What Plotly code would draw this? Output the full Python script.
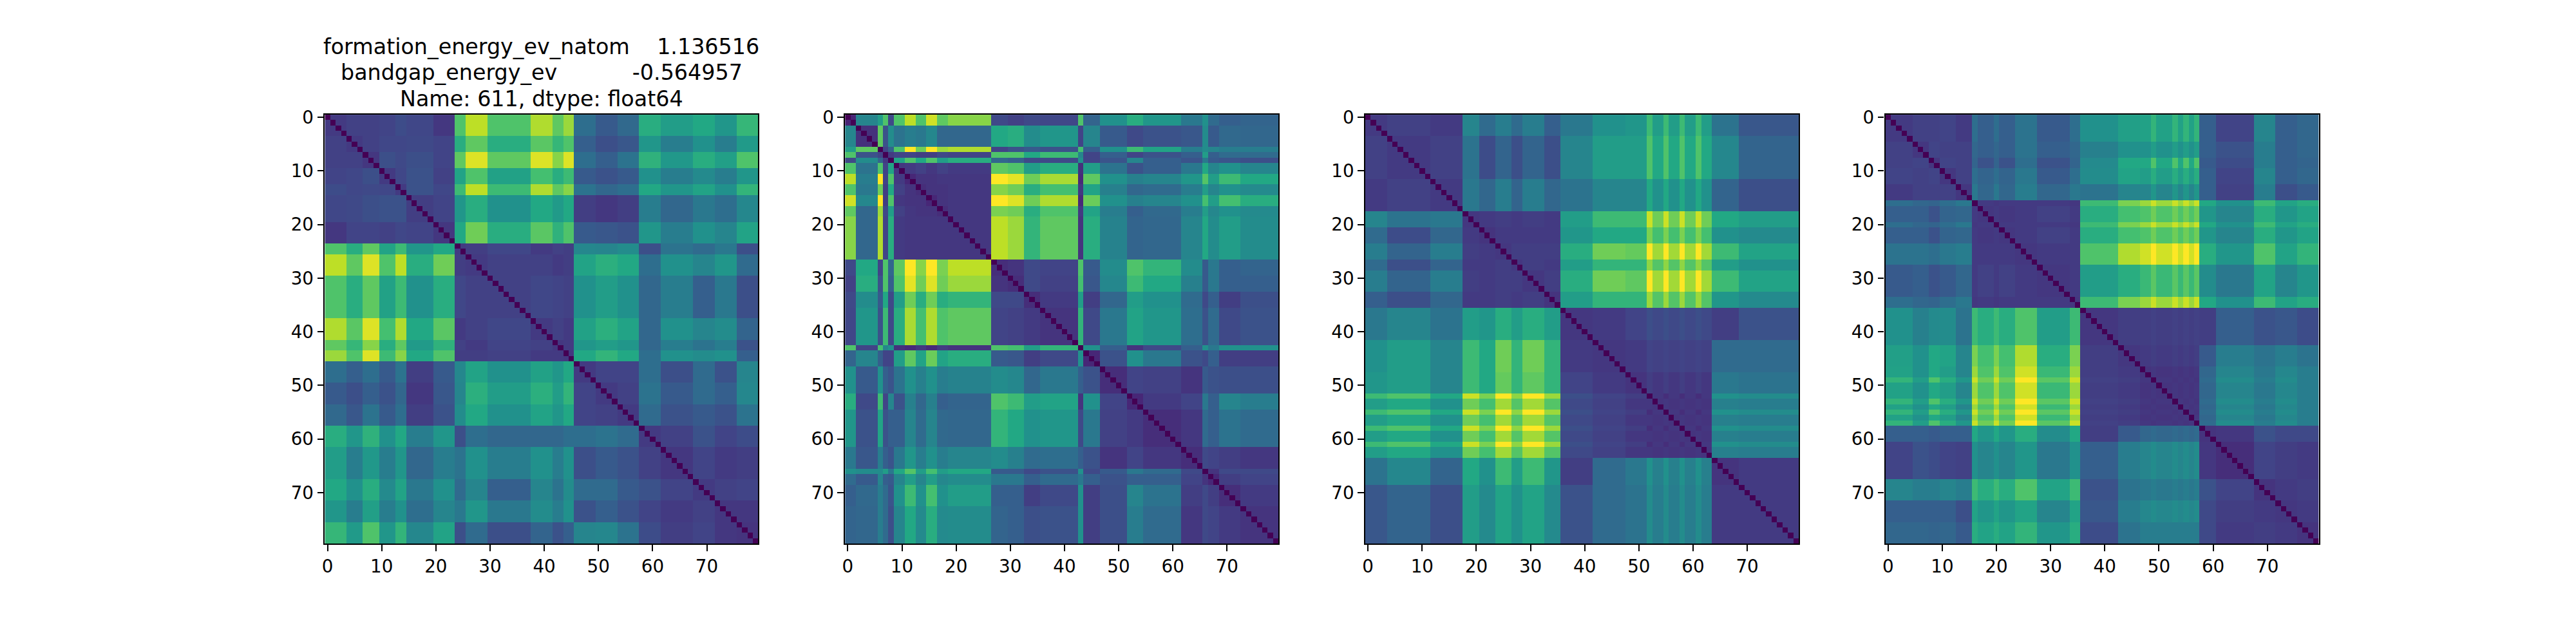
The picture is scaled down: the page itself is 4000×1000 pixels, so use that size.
import numpy as np
import plotly.graph_objects as go

# Values are estimated by eye from the reference, as viridis fractions (0-1),
# per group of similar rows/columns. Cell-level speckle is not transcribed.
TICKS = [0, 10, 20, 30, 40, 50, 60, 70]
TITLE_LINES = ["formation_energy_ev_natom\u00a0\u00a0\u00a0\u00a01.136516",
               "bandgap_energy_ev\u00a0\u00a0\u00a0\u00a0\u00a0\u00a0\u00a0\u00a0\u00a0\u00a0\u00a0-0.564957",
               "Name: 611, dtype: float64"]

# group label of each row/column, as (first, last, group) runs
P1_GROUPS = [(0,3,0),(4,6,1),(7,9,2),(10,12,3),(13,14,4),(15,19,5),(20,23,6),(24,25,7),(26,29,8),(30,37,9),
             (38,41,10),(42,43,11),(44,45,12),(46,49,13),(50,53,14),(54,57,15),(58,61,16),(62,67,17),(68,71,18),(72,75,19),(76,79,20)]
P1_TABLE = [
 [.17,.19,.19,.2,.23,.21,.16,.72,.9,.72,.88,.75,.85,.36,.28,.34,.62,.55,.6,.52,.66],
 [.17,.19,.21,.21,.22,.2,.62,.75,.62,.74,.66,.72,.3,.24,.27,.52,.42,.5,.42,.54],
 [.16,.24,.22,.24,.2,.75,.95,.75,.95,.82,.95,.36,.3,.38,.64,.53,.62,.56,.72],
 [.17,.21,.25,.19,.58,.72,.57,.7,.62,.68,.28,.25,.28,.5,.42,.47,.42,.52],
 [.17,.25,.21,.68,.9,.68,.88,.75,.82,.38,.33,.36,.6,.52,.58,.5,.65],
 [.18,.2,.52,.62,.5,.6,.54,.6,.18,.16,.18,.42,.33,.4,.36,.46],
 [.16,.6,.78,.62,.74,.64,.72,.28,.27,.25,.52,.42,.5,.45,.58],
 [.17,.18,.21,.17,.19,.18,.46,.45,.48,.24,.38,.35,.4,.24],
 [.17,.19,.19,.17,.18,.58,.63,.6,.36,.5,.45,.52,.35],
 [.19,.21,.2,.19,.5,.55,.5,.33,.42,.3,.4,.24],
 [.17,.19,.17,.57,.63,.58,.33,.5,.45,.48,.32],
 [.16,.17,.52,.55,.52,.33,.42,.38,.42,.25],
 [.16,.6,.65,.6,.36,.5,.48,.5,.3],
 [.17,.2,.2,.36,.24,.35,.25,.45],
 [.17,.19,.38,.28,.35,.3,.46],
 [.17,.35,.25,.28,.25,.38],
 [.17,.19,.25,.2,.23],
 [.16,.2,.17,.18],
 [.17,.19,.2],
 [.16,.16],
 [.15],
]

P2_GROUPS = [(0,1,0),(2,5,1),(6,6,2),(7,7,3),(8,8,4),(9,10,5),(11,12,6),(13,14,7),(15,16,8),(17,18,9),(19,26,10),
             (27,29,11),(30,32,12),(33,35,13),(36,42,14),(43,43,15),(44,46,16),(47,51,17),(52,54,18),(55,61,19),
             (62,65,20),(66,66,21),(67,68,22),(69,72,23),(73,79,24)]
P2_TABLE = [
 [.1,.45,.55,.72,.22,.72,.9,.72,.93,.75,.82,.22,.19,.22,.21,.72,.32,.5,.62,.52,.4,.5,.35,.3,.32],
 [.14,.75,.25,.48,.38,.42,.4,.46,.33,.33,.6,.62,.48,.52,.2,.45,.28,.22,.25,.27,.48,.28,.34,.33],
 [.0,.2,.32,.72,1.0,.78,1.0,.85,.88,.2,.25,.28,.25,.7,.3,.5,.68,.58,.42,.48,.45,.42,.42],
 [.0,.17,.2,.2,.18,.18,.22,.2,.72,.72,.6,.68,.45,.2,.3,.2,.25,.3,.55,.3,.35,.35],
 [.0,.58,.72,.6,.72,.55,.62,.33,.3,.22,.22,.5,.2,.26,.45,.3,.26,.4,.28,.26,.24],
 [.16,.17,.19,.16,.19,.17,.75,.72,.55,.62,.14,.55,.38,.25,.3,.4,.6,.45,.5,.45],
 [.11,.15,.15,.16,.16,1.0,.96,.78,.87,.12,.75,.5,.43,.45,.52,.73,.55,.68,.6],
 [.13,.15,.15,.16,.82,.78,.62,.7,.16,.58,.43,.33,.35,.42,.55,.45,.5,.47],
 [.11,.15,.16,1.0,.95,.78,.88,.12,.77,.5,.43,.45,.5,.7,.55,.7,.62],
 [.13,.16,.8,.78,.62,.72,.17,.58,.42,.3,.34,.42,.55,.46,.5,.47],
 [.16,.9,.85,.65,.75,.15,.62,.44,.32,.33,.45,.6,.48,.55,.48],
 [.13,.15,.22,.2,.72,.28,.48,.72,.65,.48,.28,.4,.3,.32],
 [.13,.22,.19,.7,.27,.46,.68,.6,.43,.28,.4,.3,.3],
 [.13,.17,.55,.18,.33,.55,.5,.35,.22,.3,.18,.24],
 [.15,.65,.22,.4,.58,.52,.36,.25,.35,.22,.25],
 [.0,.5,.3,.15,.22,.3,.5,.4,.5,.5],
 [.11,.25,.5,.4,.25,.22,.3,.18,.18],
 [.13,.2,.19,.15,.28,.25,.24,.24],
 [.11,.17,.2,.4,.3,.45,.42],
 [.13,.16,.35,.3,.38,.35],
 [.13,.22,.2,.18,.16],
 [.0,.15,.22,.22],
 [.11,.18,.2],
 [.13,.17],
 [.15],
]

P3_GROUPS = [(0,3,0),(4,11,1),(12,17,2),(18,20,3),(21,23,4),(24,26,5),(27,28,6),(29,32,7),(33,35,8),(36,41,9),
             (42,47,10),(48,51,11),(52,52,13),(53,54,12),(55,55,13),(56,57,12),(58,58,13),(59,60,12),(61,61,13),
             (62,63,12),(64,68,14),(69,79,15)]
P3_TABLE = [
 [.17,.19,.17,.45,.35,.42,.35,.42,.3,.4,.5,.52,.55,.68,.38,.27],
 [.17,.19,.38,.23,.32,.24,.32,.24,.45,.55,.55,.6,.72,.46,.32],
 [.17,.4,.33,.42,.32,.42,.33,.38,.45,.45,.5,.6,.32,.24],
 [.16,.17,.18,.17,.18,.17,.55,.68,.68,.78,.92,.6,.55],
 [.15,.17,.17,.17,.17,.52,.6,.6,.7,.8,.5,.47],
 [.16,.18,.18,.18,.62,.78,.76,.86,1.0,.68,.58],
 [.16,.18,.17,.55,.65,.65,.73,.83,.55,.5],
 [.16,.18,.62,.78,.75,.86,1.0,.68,.58],
 [.15,.55,.65,.65,.73,.85,.52,.47],
 [.16,.17,.2,.22,.24,.18,.25],
 [.16,.17,.19,.2,.35,.35],
 [.15,.16,.18,.4,.38],
 [.15,.16,.43,.42],
 [.13,.5,.48],
 [.15,.17],
 [.17],
]

P4_GROUPS = [(0,4,0),(5,7,1),(8,9,2),(10,12,3),(13,15,4),(16,16,6),(17,19,5),(20,20,6),(21,23,5),(24,27,7),(28,33,8),
             (34,35,6),(36,42,9),(43,46,10),(47,48,11),(49,49,12),(50,52,11),(53,53,12),(54,54,11),(55,55,12),(56,56,11),(57,57,12),
             (58,60,13),(61,67,14),(68,71,15),(72,75,16),(76,79,17)]
P4_TABLE = [
 [.17,.19,.19,.2,.17,.3,.36,.38,.28,.5,.56,.57,.65,.3,.2,.45,.3,.33],
 [.16,.2,.19,.19,.3,.33,.38,.3,.43,.5,.5,.55,.3,.25,.42,.3,.33],
 [.16,.2,.19,.25,.32,.36,.25,.47,.6,.6,.72,.28,.23,.42,.3,.32],
 [.16,.19,.32,.36,.4,.28,.48,.58,.55,.62,.3,.2,.45,.3,.33],
 [.16,.33,.4,.42,.33,.38,.45,.45,.52,.3,.19,.42,.24,.28],
 [.16,.17,.17,.19,.62,.7,.72,.78,.52,.45,.62,.52,.58],
 [.16,.17,.17,.68,.8,.85,.92,.6,.5,.68,.58,.62],
 [.16,.17,.72,.88,.93,1.0,.62,.52,.72,.58,.65],
 [.16,.55,.62,.67,.74,.48,.4,.58,.45,.52],
 [.16,.18,.18,.19,.18,.3,.25,.27,.23],
 [.16,.17,.18,.28,.42,.38,.42,.38],
 [.15,.16,.33,.45,.4,.46,.42],
 [.15,.35,.48,.42,.48,.42],
 [.15,.16,.25,.22,.22],
 [.13,.2,.18,.17],
 [.15,.17,.18],
 [.16,.17],
 [.15],
]

PANELS = [(P1_GROUPS, P1_TABLE), (P2_GROUPS, P2_TABLE), (P3_GROUPS, P3_TABLE), (P4_GROUPS, P4_TABLE)]
VIRIDIS = ["#440154", "#482475", "#414487", "#355f8d", "#2a788e", "#21918c", "#22a884", "#44bf70", "#7ad151", "#bddf26", "#fde725"]


def expand(groups, table):
    labels = np.zeros(80, dtype=int)
    for first, last, g in groups:
        labels[first:last + 1] = g
    n = len(table)
    t = np.zeros((n, n))
    for i, row in enumerate(table):
        assert len(row) == n - i, (i, len(row), n - i)
        t[i, i:] = row
        t[i:, i] = row
    z = t[np.ix_(labels, labels)]
    np.fill_diagonal(z, 0.0)
    return z


W, H = 4000, 1000
PAGE_MARGIN = 8  # the browser's default body margin shifts the whole figure
LEFTS = [500.0 - PAGE_MARGIN, 1308.8 - PAGE_MARGIN, 2117.6 - PAGE_MARGIN, 2926.2 - PAGE_MARGIN]
SIDE, TOP, BOTTOM = 673.9, 168.0 - PAGE_MARGIN, 842.0 - PAGE_MARGIN
FONT = "DejaVu Sans"
fig = go.Figure()
scale = [[i / 10, c] for i, c in enumerate(VIRIDIS)]
layout = dict(width=W, height=H, margin=dict(l=0, r=0, t=0, b=0), paper_bgcolor="white", plot_bgcolor="white",
              showlegend=False, font=dict(family=FONT, size=27.78, color="black"))
for k, ((groups, table), left) in enumerate(zip(PANELS, LEFTS)):
    s = "" if k == 0 else str(k + 1)
    fig.add_trace(go.Heatmap(z=expand(groups, table), x=list(range(80)), y=list(range(80)), colorscale=scale,
                             zmin=0, zmax=1, showscale=False, xaxis="x" + s, yaxis="y" + s))
    common = dict(tickmode="array", tickvals=TICKS, ticktext=[str(t) for t in TICKS], ticks="outside", ticklen=9.7,
                  tickwidth=2.2, tickcolor="black", showgrid=False, zeroline=False, showline=True, mirror=True,
                  linecolor="black", linewidth=2.2, tickfont=dict(family=FONT, size=27.78, color="black"))
    layout["xaxis" + s] = dict(domain=[left / W, (left + SIDE) / W], range=[-0.5, 79.5], anchor="y" + s, **common)
    layout["yaxis" + s] = dict(domain=[1 - BOTTOM / H, 1 - TOP / H], range=[79.5, -0.5], anchor="x" + s, **common)

anns = []
for line, yy in zip(TITLE_LINES, [61 - PAGE_MARGIN, 102 - PAGE_MARGIN, 143 - PAGE_MARGIN]):
    anns.append(dict(text=line, x=(LEFTS[0] + SIDE / 2) / W, y=1 - yy / H, xref="paper", yref="paper", xanchor="center",
                     yanchor="middle", showarrow=False, font=dict(family=FONT, size=33.33, color="black")))
layout["annotations"] = anns
fig.update_layout(**layout)
fig.write_html("out.html", config={"displayModeBar": False})
